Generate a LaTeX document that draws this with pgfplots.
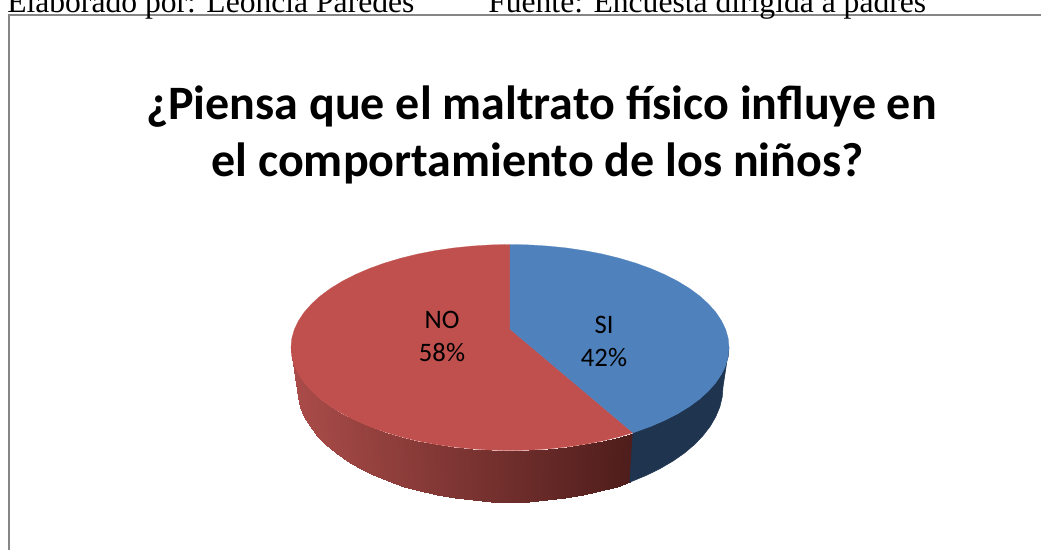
\documentclass[border=0pt]{standalone}
\usepackage{fontspec}
\setmainfont{Carlito}
\newfontfamily\timesf{Liberation Serif}
\usepackage{pgfplots}
\pgfplotsset{compat=1.18}
\definecolor{piered}{HTML}{C0504D}
\definecolor{pieblue}{HTML}{4F81BD}
\definecolor{sideblue}{HTML}{1F344F}
\definecolor{framegray}{HTML}{868686}
\begin{document}
\begin{tikzpicture}
\begin{axis}[name=ax,scale only axis,width=780.75pt,height=412.5pt,xmin=0,xmax=1041,ymin=0,ymax=550,y dir=reverse,hide axis,
  colormap={redside}{rgb255=(170,76,73) rgb255=(78,29,27)},point meta min=297,point meta max=630]
% red side wall: top rim, then bottom rim
\addplot[surf,shader=interp,mesh/rows=2,mesh/cols=26,point meta=explicit] table[meta=c]{
x y c
291.0 347.5 297.0
291.8 356.5 297.8
294.3 365.4 300.2
298.5 374.2 304.3
304.2 382.7 309.8
311.5 391.0 317.0
320.3 399.0 325.5
330.6 406.6 335.5
342.2 413.7 346.8
355.1 420.3 359.4
369.2 426.4 373.1
384.4 431.9 387.8
400.5 436.7 403.5
417.4 440.9 420.0
435.1 444.3 437.1
453.3 447.0 454.9
472.0 448.9 473.0
490.9 450.1 491.4
510.0 450.5 510.0
529.1 450.1 528.6
548.0 448.9 547.0
566.7 447.0 565.1
584.9 444.3 582.9
602.6 440.9 600.0
619.5 436.7 616.5
633.0 432.7 630.0
297.0 387.0 297.0
297.8 397.0 297.8
300.2 407.0 300.2
304.3 416.8 304.3
309.8 426.3 309.8
317.0 435.6 317.0
325.5 444.5 325.5
335.5 453.0 335.5
346.8 460.9 346.8
359.4 468.3 359.4
373.1 475.1 373.1
387.8 481.2 387.8
403.5 486.6 403.5
420.0 491.2 420.0
437.1 495.1 437.1
454.9 498.1 454.9
473.0 500.3 473.0
491.4 501.6 491.4
510.0 502.0 510.0
528.6 501.6 528.6
547.0 500.3 547.0
565.1 498.1 565.1
582.9 495.1 582.9
600.0 491.2 600.0
616.5 486.6 616.5
629.7 482.1 629.7
};
% blue side wall
\addplot[fill=sideblue,draw=sideblue] coordinates {
(729.0,347.5) (728.2,356.5) (725.7,365.4) (721.5,374.2) (715.8,382.7) (708.5,391.0) (699.7,399.0) (689.4,406.6) (677.8,413.7) (664.9,420.3) (650.8,426.4) (635.6,431.9) (633.0,432.7)
(629.7,482.1) (632.2,481.2) (646.9,475.1) (660.6,468.3) (673.2,460.9) (684.5,453.0) (694.5,444.5) (703.0,435.6) (710.2,426.3) (715.7,416.8) (719.8,407.0) (722.2,397.0) (723.0,387.0)
} -- cycle;
% NO 58
\addplot[fill=piered,draw=piered,line width=.2pt] coordinates {
(510.0,329.0) (633.0,432.7) (619.5,436.7) (602.6,440.9) (584.9,444.3) (566.7,447.0) (548.0,448.9) (529.1,450.1) (510.0,450.5)
(490.9,450.1) (472.0,448.9) (453.3,447.0) (435.1,444.3) (417.4,440.9) (400.5,436.7) (384.4,431.9) (369.2,426.4) (355.1,420.3)
(342.2,413.7) (330.6,406.6) (320.3,399.0) (311.5,391.0) (304.2,382.7) (298.5,374.2) (294.3,365.4) (291.8,356.5) (291.0,347.5)
(291.8,338.5) (294.3,329.6) (298.5,320.8) (304.2,312.3) (311.5,304.0) (320.3,296.0) (330.6,288.4) (342.2,281.3) (355.1,274.7)
(369.2,268.6) (384.4,263.1) (400.5,258.3) (417.4,254.1) (435.1,250.7) (453.3,248.0) (472.0,246.1) (490.9,244.9) (510.0,244.5)
} -- cycle;
% SI 42
\addplot[fill=pieblue,draw=pieblue,line width=.2pt] coordinates {
(510.0,329.0) (510.0,244.5) (529.1,244.9) (548.0,246.1) (566.7,248.0) (584.9,250.7) (602.6,254.1) (619.5,258.3) (635.6,263.1)
(650.8,268.6) (664.9,274.7) (677.8,281.3) (689.4,288.4) (699.7,296.0) (708.5,304.0) (715.8,312.3) (721.5,320.8) (725.7,329.6)
(728.2,338.5) (729.0,347.5) (728.2,356.5) (725.7,365.4) (721.5,374.2) (715.8,382.7) (708.5,391.0) (699.7,399.0) (689.4,406.6)
(677.8,413.7) (664.9,420.3) (650.8,426.4) (635.6,431.9) (633.0,432.7)
} -- cycle;
% chart frame
\addplot[framegray,line width=1.5pt] coordinates {(9,550) (9,15) (1041,15)};
\node[anchor=base west,font=\timesf\fontsize{23.7}{26}\selectfont,inner sep=0pt] at (axis cs:7,12.5) {Elaborado por: Leoncia Paredes};
\node[anchor=base west,font=\timesf\fontsize{23.7}{26}\selectfont,inner sep=0pt] at (axis cs:488,12.5) {Fuente: Encuesta dirigida a padres};
\node[anchor=base,font=\bfseries\fontsize{36}{40}\selectfont,inner sep=0pt] at (axis cs:541.5,119) {¿Piensa que el maltrato físico influye en};
\node[anchor=base,font=\bfseries\fontsize{36}{40}\selectfont,inner sep=0pt] at (axis cs:537.5,176) {el comportamiento de los niños?};
\node[anchor=base,font=\fontsize{20}{22}\selectfont,inner sep=0pt] at (axis cs:442,328) {NO};
\node[anchor=base,font=\fontsize{20}{22}\selectfont,inner sep=0pt] at (axis cs:442,361) {58\%};
\node[anchor=base,font=\fontsize{20}{22}\selectfont,inner sep=0pt] at (axis cs:604,333) {SI};
\node[anchor=base,font=\fontsize{20}{22}\selectfont,inner sep=0pt] at (axis cs:604,366) {42\%};
\end{axis}
\pgfresetboundingbox
\useasboundingbox (ax.south west) rectangle (ax.north east);
\end{tikzpicture}
\end{document}
